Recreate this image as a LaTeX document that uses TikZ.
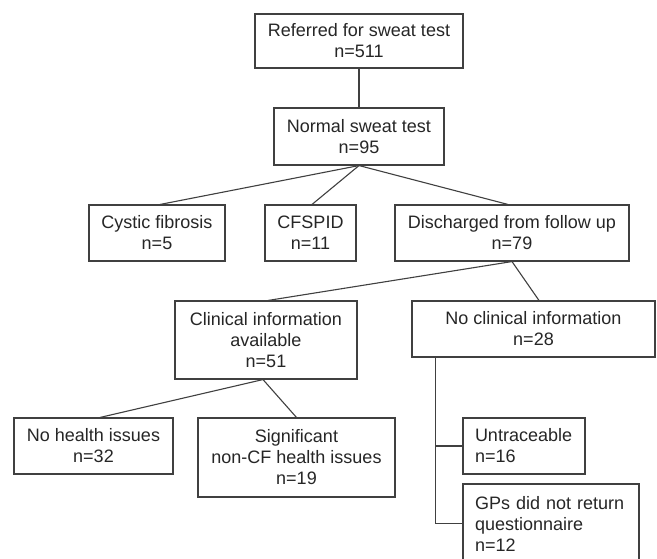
\documentclass[tikz,border=0pt]{standalone}
\usepackage{fontspec}
\setmainfont{Liberation Sans}
\usetikzlibrary{calc}
\begin{document}
\begin{tikzpicture}[x=1pt,y=-1pt,
  box/.style={draw=black!75, line width=1.1pt, rectangle, inner sep=0pt,
    align=center, text=black!85, font=\fontsize{18}{21}\selectfont},
  lbox/.style={box, align=left, text width=#1, inner xsep=12pt},
  link/.style={draw=black!75, line width=1.1pt}]
\useasboundingbox (0,0) rectangle (657,558);
\fill[white] (0,0) rectangle (657,558);
\clip (0,0) rectangle (657,558);

\node[box, minimum width=208pt, minimum height=54pt] (ref) at (359,41)
  {Referred for sweat test\\n=511};
\node[box, minimum width=170pt, minimum height=57pt] (norm) at (359,136.5)
  {Normal sweat test\\n=95};
\node[box, minimum width=136pt, minimum height=56pt] (cf) at (157,233)
  {Cystic fibrosis\\n=5};
\node[box, minimum width=91pt, minimum height=56pt] (cfspid) at (310.5,233)
  {CFSPID\\n=11};
\node[box, minimum width=234pt, minimum height=56pt] (dis) at (512,233)
  {Discharged from follow up\\n=79};
\node[box, minimum width=182pt, minimum height=78pt] (clin) at (266,340)
  {Clinical information\\available\\n=51};
\node[box, minimum width=243pt, minimum height=56pt] (noclin) at (533.5,329)
  {No clinical information\\n=28};
\node[box, minimum width=159pt, minimum height=56pt] (nohealth) at (93.5,446)
  {No health issues\\n=32};
\node[box, minimum width=197pt, minimum height=79pt] (sig) at (296.5,457.5)
  {Significant\\non-CF health issues\\n=19};
\node[lbox=98pt, minimum width=122pt, minimum height=56pt] (untr) at (524,446)
  {Untraceable\\n=16};
\node[lbox=152pt, minimum width=176pt, minimum height=79pt] (gps) at (551,523.5)
  {GPs did not return\\questionnaire\\n=12};

\coordinate (trunk) at ($(noclin.south west)+(24,0)$);

\path[link] (ref.south) -- (norm.north);
\path[link] (norm.south) -- ($(cf.north)+(3,0)$);
\path[link] (norm.south) -- ($(cfspid.north)+(1.5,0)$);
\path[link] (norm.south) -- ($(dis.north)+(-4,0)$);
\path[link] (dis.south) -- ($(clin.north)+(2,0)$);
\path[link] (dis.south) -- ($(noclin.north)+(5.5,0)$);
\path[link] ($(clin.south)+(-3,0)$) -- ($(nohealth.north)+(6.5,0)$);
\path[link] ($(clin.south)+(-3,0)$) -- (sig.north);
\path[link] (trunk) |- (gps.west);
\path[link] (untr.west) -- (untr.west -| trunk);
\end{tikzpicture}
\end{document}
